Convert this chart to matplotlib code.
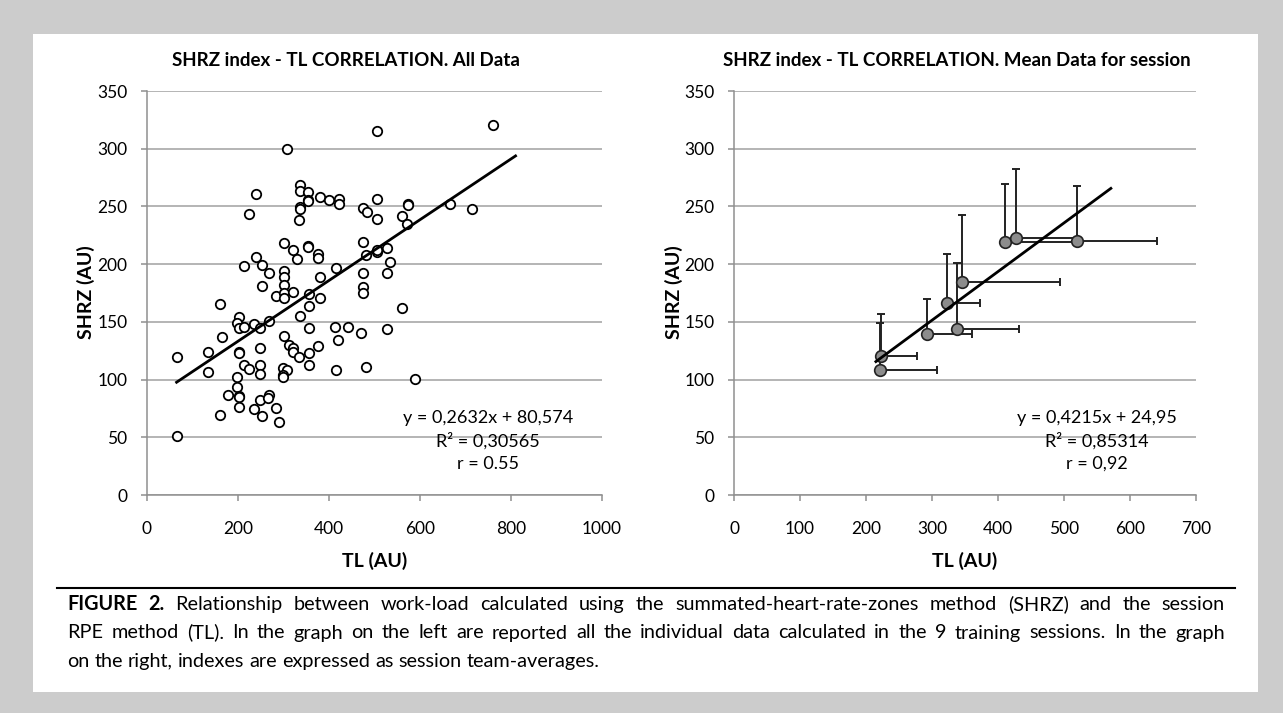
import numpy as np
import matplotlib
matplotlib.use("Agg")
import matplotlib.pyplot as plt
from matplotlib.patches import Rectangle
from matplotlib.lines import Line2D

plt.rcParams['font.family'] = ['Lato', 'DejaVu Sans']

# --- left chart: all individual data (TL, SHRZ) ---
tl_all = [505, 308, 240, 336, 336, 353, 353, 353, 336, 336, 381, 401, 421, 421, 505,
          475, 484, 505, 225, 333, 300, 321, 330, 353, 353, 376, 375, 240, 213, 253,
          268, 300, 300, 380, 415, 475, 481, 505, 505, 527, 475, 527, 534,
          761, 573, 573, 561, 571, 666, 714,
          300, 252, 475, 475, 283.5, 300, 300, 320, 356, 380, 160, 356, 336, 201.5,
          198.5, 201.5, 213, 234.5, 249, 268, 356, 413, 441, 471, 527, 420, 165, 133,
          201.5, 201.5, 249, 300, 311, 320, 320, 333, 356, 376, 65, 133, 213, 225,
          249, 249, 299, 308, 299, 299, 356, 415, 481, 198.5, 198.5, 178, 201.5, 201.5,
          201.5, 160, 234.5, 249, 268, 265, 253.5, 284, 290, 65,
          561, 589]
shrz_all = [315, 299.5, 261, 268.6, 263, 262.8, 255.6, 254.5, 249.8, 248, 258, 256, 256.4, 252, 256.4,
            249, 245, 238.8, 243.7, 238, 218.6, 212, 204.8, 216, 215, 208.8, 205, 206.5, 198.4, 199,
            192.6, 194, 189, 189, 197, 219, 208, 210.8, 212, 213.7, 192.6, 192.6, 202,
            320.8, 252, 251, 242, 234.8, 251.8, 248,
            182, 181, 180.4, 174.7, 172.7, 174.7, 170.4, 175.6, 174, 171, 165.5, 164, 155.4, 154.5,
            149.3, 145, 145.3, 148.4, 144.4, 150.7, 144.4, 145.3, 145.8, 140.6, 144, 134.5, 136.9, 124,
            123.9, 123, 127.4, 137.5, 129.7, 127.4, 124.2, 119.8, 123.3, 128.8, 119.6, 106.8, 112.6, 109.2,
            112.3, 105.1, 109.7, 108.3, 104, 102.5, 112.9, 108.3, 111, 102.5, 93.3, 86.4, 85.7, 85,
            76.2, 69, 74.8, 82.3, 86.6, 83.7, 68.2, 75.6, 63.5, 50.9,
            162.3, 100.8]
fit_all = (0.2632, 80.574)
fit_all_range = (65, 810)
text_all = ["y = 0,2632x + 80,574", "R² = 0,30565", "r = 0.55"]

# --- right chart: session means with upper error bars ---
tl_mean = [221, 223, 292, 338, 323, 346, 410, 428, 520]
shrz_mean = [108, 120.7, 139.5, 143.5, 166.6, 184.8, 219.2, 223, 220]
tl_err = [86, 54, 68, 94, 49, 148, 107, 91, 121]
shrz_err = [41, 36, 30.5, 57.5, 42.4, 58, 50.5, 59, 48]
fit_mean = (0.4215, 24.95)
fit_mean_range = (215, 571)
text_mean = ["y = 0,4215x + 24,95", "R² = 0,85314", "r = 0,92"]

titles = ["SHRZ index - TL CORRELATION. All Data",
          "SHRZ index - TL CORRELATION. Mean Data for session"]
caption_lines = [
    "FIGURE 2. Relationship between work-load calculated using the summated-heart-rate-zones method (SHRZ) and the session",
    "RPE method (TL). In the graph on the left are reported all the individual data calculated in the 9 training sessions. In the graph",
    "on the right, indexes are expressed as session team-averages.",
]

W, H = 1283, 713
fig = plt.figure(figsize=(W / 100, H / 100), dpi=100)
fig.patch.set_facecolor('#cccccc')


def fx(px):
    return px / W


def fy(py):
    return 1 - py / H


fig.patches.append(Rectangle((fx(33), fy(692)), fx(1258) - fx(33), fy(34) - fy(692),
                             transform=fig.transFigure, facecolor='white', edgecolor='none', zorder=-10))

ax1 = fig.add_axes([fx(147), fy(495), fx(602) - fx(147), fy(91) - fy(495)])
ax2 = fig.add_axes([fx(734), fy(495), fx(1196) - fx(734), fy(91) - fy(495)])


def style(ax, xmax, xstep):
    ax.set_xlim(0, xmax)
    ax.set_ylim(0, 350)
    ax.set_xticks(np.arange(0, xmax + 1, xstep))
    ax.set_yticks(np.arange(0, 351, 50))
    ax.yaxis.grid(True, color='#a0a0a0', linewidth=1.1)
    ax.set_axisbelow(True)
    for s in ['top', 'right']:
        ax.spines[s].set_visible(False)
    for s in ['left', 'bottom']:
        ax.spines[s].set_color('#909090')
        ax.spines[s].set_linewidth(1.1)
    ax.tick_params(axis='both', colors='#909090', labelcolor='black', labelsize=12.5, length=4, width=1.1)
    ax.tick_params(axis='y', pad=10)
    ax.tick_params(axis='x', pad=15)
    ax.set_facecolor('none')


style(ax1, 1000, 200)
style(ax2, 700, 100)

# left scatter
ax1.scatter(tl_all, shrz_all, s=46, facecolors='white', edgecolors='black', linewidths=1.3, zorder=3)
xs = np.array(fit_all_range)
ax1.plot(xs, fit_all[0] * xs + fit_all[1], color='black', lw=2, zorder=4)

# right means with error bars
ax2.errorbar(tl_mean, shrz_mean,
             xerr=[np.zeros(len(tl_err)), tl_err],
             yerr=[np.zeros(len(shrz_err)), shrz_err],
             fmt='none', ecolor='#222222', elinewidth=1.4, capsize=3, capthick=1.4, zorder=2)
ax2.scatter(tl_mean, shrz_mean, s=70, facecolors='#8c8c8c', edgecolors='#222222', linewidths=1.2, zorder=3)
xs = np.array(fit_mean_range)
ax2.plot(xs, fit_mean[0] * xs + fit_mean[1], color='black', lw=2, zorder=4)

# regression texts
for lines, cx in [(text_all, 488), (text_mean, 1097)]:
    for i, t in enumerate(lines):
        fig.text(fx(cx), fy(418 + 23 * i), t, ha='center', va='center', fontsize=13)

# titles and axis labels
fig.text(fx(346), fy(61), titles[0], ha='center', va='center', fontsize=13.5, fontweight='bold')
fig.text(fx(957), fy(61), titles[1], ha='center', va='center', fontsize=13.5, fontweight='bold')
fig.text(fx(375), fy(561), "TL (AU)", ha='center', va='center', fontsize=14, fontweight='bold')
fig.text(fx(965), fy(561), "TL (AU)", ha='center', va='center', fontsize=14, fontweight='bold')
fig.text(fx(86), fy(292), "SHRZ (AU)", ha='center', va='center', rotation=90, fontsize=14, fontweight='bold')
fig.text(fx(674), fy(292), "SHRZ (AU)", ha='center', va='center', rotation=90, fontsize=14, fontweight='bold')

# caption separator
fig.lines.append(Line2D([fx(57), fx(1235)], [fy(588), fy(588)], transform=fig.transFigure,
                        color='black', lw=1.5))

# caption, justified like the original
renderer = fig.canvas.get_renderer()
left, right = 67, 1225
cap_size = 14.3
for i, line in enumerate(caption_lines):
    y = fy(610 + 28.5 * i)
    words = line.split(' ')
    arts = []
    for j, w in enumerate(words):
        bold = (i == 0 and j < 2)
        arts.append(fig.text(0, y, w, ha='left', va='baseline', fontsize=cap_size,
                             fontweight='bold' if bold else 'normal'))
    widths = [a.get_window_extent(renderer).width for a in arts]
    if i < len(caption_lines) - 1:
        gap = (right - left - sum(widths)) / (len(words) - 1)
    else:
        sp = fig.text(0, 0, 'a a', fontsize=cap_size)
        sa = fig.text(0, 0, 'aa', fontsize=cap_size)
        gap = sp.get_window_extent(renderer).width - sa.get_window_extent(renderer).width
        sp.remove()
        sa.remove()
    x = left
    for a, wd in zip(arts, widths):
        a.set_x(fx(x))
        x += wd + gap

fig.savefig('out.png', dpi=100, facecolor=fig.get_facecolor())
